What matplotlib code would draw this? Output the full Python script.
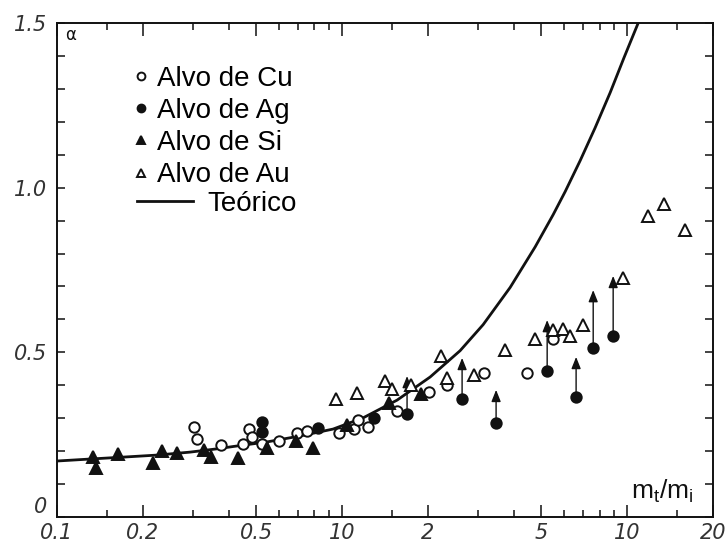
import matplotlib
matplotlib.use("Agg")
import matplotlib.pyplot as plt
from matplotlib.ticker import FixedLocator, FixedFormatter, MultipleLocator
import numpy as np

# alvo de Cu (circulos abertos)
cu_x = [0.3025, 0.310, 0.376, 0.449, 0.472, 0.483, 0.524, 0.601, 0.695, 0.754,
        0.976, 1.101, 1.138, 1.234, 1.560, 2.019, 2.336, 3.148, 4.457, 5.50]
cu_y = [0.273, 0.237, 0.220, 0.223, 0.267, 0.243, 0.223, 0.232, 0.255, 0.261,
        0.255, 0.267, 0.295, 0.272, 0.322, 0.381, 0.401, 0.437, 0.437, 0.541]

# alvo de Ag (circulos cheios), seta = limite inferior
ag_x = [0.524, 0.524, 0.824, 1.295, 1.690, 2.636, 3.469, 5.24, 6.62, 7.60, 8.93]
ag_y = [0.288, 0.257, 0.270, 0.301, 0.313, 0.358, 0.285, 0.443, 0.364, 0.513, 0.550]
ag_seta = [None, None, None, None, 0.428, 0.483, 0.386, 0.598, 0.486, 0.689, 0.732]

# alvo de Si (triangulos cheios)
si_x = [0.1338, 0.137, 0.1637, 0.2172, 0.2336, 0.2637, 0.328, 0.347, 0.432,
        0.546, 0.690, 0.791, 1.041, 1.462, 1.893]
si_y = [0.182, 0.149, 0.191, 0.164, 0.200, 0.194, 0.203, 0.182, 0.179,
        0.210, 0.231, 0.210, 0.279, 0.346, 0.374]

# alvo de Au (triangulos abertos)
au_x = [0.953, 1.124, 1.415, 1.492, 1.739, 2.225, 2.336, 2.904, 3.732, 4.734,
        5.50, 5.96, 6.31, 7.01, 9.64, 11.85, 13.49, 15.98]
au_y = [0.358, 0.377, 0.413, 0.390, 0.401, 0.489, 0.422, 0.431, 0.506, 0.539,
        0.569, 0.572, 0.551, 0.583, 0.727, 0.914, 0.950, 0.872]

# curva teorica
teo_x = [0.1, 0.1306, 0.1718, 0.2243, 0.2929, 0.3642, 0.4146, 0.5456, 0.7122,
         0.9299, 1.185, 1.560, 2.036, 2.594, 3.124, 3.886, 4.755, 5.50, 6.06,
         6.84, 7.72, 8.72, 9.75, 10.93]
teo_y = [0.170, 0.176, 0.182, 0.188, 0.197, 0.207, 0.214, 0.228, 0.246,
         0.267, 0.301, 0.355, 0.425, 0.505, 0.584, 0.697, 0.820, 0.918, 0.988,
         1.082, 1.182, 1.289, 1.395, 1.500]

x_major = [0.1, 0.2, 0.5, 1, 2, 5, 10, 20]
x_major_lbl = ["0.1", "0.2", "0.5", "10", "2", "5", "10", "20"]
x_minor = [0.15, 0.3, 0.4, 0.6, 0.7, 0.8, 0.9, 1.5, 3, 4, 6, 7, 8, 9, 15]
y_major = [0, 0.5, 1.0, 1.5]
y_major_lbl = ["0", "0.5", "1.0", "1.5"]

fig = plt.figure(figsize=(7.28, 5.43), dpi=100)
ax = fig.add_axes([57 / 728, 26 / 543, 656 / 728, 494 / 543])

ink = "#111111"
ax.plot(teo_x, teo_y, color=ink, lw=2.0, zorder=2, solid_capstyle="butt",
        solid_joinstyle="round")

# setas dos pontos de Ag
for x, y, s in zip(ag_x, ag_y, ag_seta):
    if s is None:
        continue
    ax.annotate("", xy=(x, s), xytext=(x, y),
                arrowprops=dict(arrowstyle="-|>,head_length=0.7,head_width=0.28",
                                lw=1.0, color=ink, shrinkA=0, shrinkB=0),
                zorder=3)

ms = 7.5
mew = 1.4
h_cu, = ax.plot(cu_x, cu_y, "o", ms=ms, mfc="white", mec=ink, mew=mew, zorder=4)
h_ag, = ax.plot(ag_x, ag_y, "o", ms=ms, mfc=ink, mec=ink, mew=mew, zorder=4)
h_si, = ax.plot(si_x, si_y, "^", ms=ms + 0.5, mfc=ink, mec=ink, mew=mew, zorder=4)
h_au, = ax.plot(au_x, au_y, "^", ms=ms + 0.5, mfc="white", mec=ink, mew=mew, zorder=4)

ax.set_xscale("log")
ax.set_xlim(0.1, 20)
ax.set_ylim(0, 1.5)

ax.xaxis.set_major_locator(FixedLocator(x_major))
ax.xaxis.set_major_formatter(FixedFormatter(x_major_lbl))
ax.xaxis.set_minor_locator(FixedLocator(x_minor))
ax.xaxis.set_minor_formatter(FixedFormatter([""] * len(x_minor)))
ax.yaxis.set_major_locator(FixedLocator(y_major))
ax.yaxis.set_major_formatter(FixedFormatter(y_major_lbl))
ax.yaxis.set_minor_locator(MultipleLocator(0.1))

ax.tick_params(axis="both", which="both", direction="in", top=True, right=True,
               color=ink, width=1.1)
ax.tick_params(axis="x", which="major", length=9, pad=4)
ax.tick_params(axis="x", which="minor", length=5)
ax.tick_params(axis="y", which="both", length=6, pad=7)

for lbl in ax.get_xticklabels() + ax.get_yticklabels():
    lbl.set_fontstyle("italic")
    lbl.set_fontsize(15)
    lbl.set_color("#333333")
    lbl.set_fontfamily("DejaVu Sans")
# o "0" do eixo y fica um pouco acima da linha
ax.get_yticklabels()[0].set_verticalalignment("bottom")

for sp in ax.spines.values():
    sp.set_linewidth(1.4)
    sp.set_color(ink)

fam = "Liberation Sans"
leg1 = ax.legend([h_cu, h_ag, h_si, h_au],
                 ["Alvo de Cu", "Alvo de Ag", "Alvo de Si", "Alvo de Au"],
                 loc="upper left", bbox_to_anchor=(0.117, 0.913), frameon=False,
                 borderpad=0, borderaxespad=0, handlelength=0.55, handletextpad=0.3,
                 labelspacing=0.22, markerscale=0.75,
                 prop={"family": fam, "size": 20})
ax.add_artist(leg1)
h_teo, = ax.plot([], [], color=ink, lw=2.0)
ax.legend([h_teo], ["Teórico"], loc="upper left", bbox_to_anchor=(0.122, 0.660),
          frameon=False, borderpad=0, borderaxespad=0, handlelength=2.0,
          handletextpad=0.55, prop={"family": fam, "size": 20})

ax.text(0.012, 0.976, "α", transform=ax.transAxes, ha="left", va="center",
        fontsize=12, color=ink, family="DejaVu Sans")
ax.text(0.971, 0.038, r"m$_\mathregular{t}$/m$_\mathregular{i}$", transform=ax.transAxes,
        ha="right", va="baseline", fontsize=19, family=fam, color=ink)

fig.savefig("out.png", dpi=100)
